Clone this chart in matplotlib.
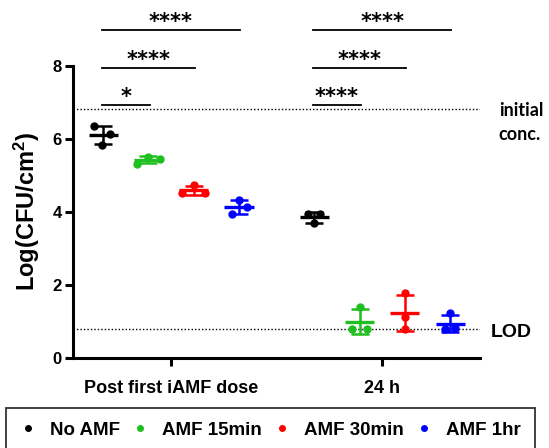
import numpy as np
import matplotlib
matplotlib.use("Agg")
import matplotlib.pyplot as plt
from matplotlib.lines import Line2D

plt.rcParams['font.family'] = ['Liberation Sans', 'DejaVu Sans']
plt.rcParams['font.weight'] = 'bold'
plt.rcParams['mathtext.fontset'] = 'custom'
plt.rcParams['mathtext.rm'] = 'Liberation Sans:bold'
plt.rcParams['mathtext.bf'] = 'Liberation Sans:bold'
plt.rcParams['mathtext.default'] = 'bf'

# data
groups = ["Post first iAMF dose", "24 h"]
series = ["No AMF", "AMF 15min", "AMF 30min", "AMF 1hr"]
colors = ["black", "#1fbf1f", "red", "blue"]

post_dose = [
    [6.34, 6.12, 5.84],
    [5.32, 5.50, 5.46],
    [4.52, 4.73, 4.52],
    [4.33, 4.13, 3.95],
]
h24 = [
    [3.95, 3.93, 3.68],
    [1.38, 0.78, 0.78],
    [1.77, 1.11, 0.78],
    [1.21, 0.78, 0.80],
]
initial_conc = 6.83
lod = 0.78

# significance bars: (group, compared series index, label, level)
sig = [
    (0, 1, "*", 6.92),
    (0, 2, "****", 7.95),
    (0, 3, "****", 8.99),
    (1, 1, "****", 6.92),
    (1, 2, "****", 7.95),
    (1, 3, "****", 8.99),
]

# layout
offsets = [-0.322, -0.107, 0.107, 0.322]
jitter = [
    [[-0.041, 0.033, -0.005], [-0.053, 0.0, 0.053], [-0.053, 0.0, 0.053], [0.0, 0.038, -0.033]],
    [[-0.028, 0.028, 0.0], [0.0, -0.035, 0.035], [0.0, 0.0, 0.0], [0.0, -0.024, 0.024]],
]

fig = plt.figure(figsize=(5.49, 4.48), dpi=100)
ax = fig.add_axes([0.1324, 0.202, 0.742, 0.6507])

for gi, gdata in enumerate([post_dose, h24]):
    for si, vals in enumerate(gdata):
        vals = np.array(vals)
        xc = gi + offsets[si]
        m = vals.mean()
        sd = vals.std(ddof=1)
        ax.errorbar(xc, m, yerr=sd, fmt='none', ecolor=colors[si], elinewidth=1.8,
                    capsize=6.5, capthick=1.8, zorder=3)
        ax.hlines(m, xc - 0.069, xc + 0.069, color=colors[si], lw=2.4, zorder=3)
        ax.plot(xc + np.array(jitter[gi][si]), vals, 'o', color=colors[si],
                ms=5, zorder=4)

ax.axhline(initial_conc, color='black', ls=(0, (1, 1.5)), lw=1.0, zorder=1)
ax.axhline(lod, color='black', ls=(0, (1, 1.5)), lw=1.0, zorder=1)

for gi, si, lab, yb in sig:
    x0 = gi + offsets[0] - 0.005
    x1 = gi + offsets[si] + 0.005
    ax.plot([x0, x1], [yb, yb], color='black', lw=1.3, clip_on=False)
    ax.text((x0 + x1) / 2, yb + 0.06, lab, ha='center', va='baseline',
            fontsize=15, fontweight='bold', family='DejaVu Sans')

ax.set_xlim(-0.466, 1.464)
ax.set_ylim(0, 8)
ax.set_yticks([0, 2, 4, 6, 8])
ax.set_xticks([0, 1])
ax.set_xticklabels(groups, fontsize=13, fontweight='bold')
ax.tick_params(axis='y', labelsize=12, width=2.2, length=6, pad=2)
ax.tick_params(axis='x', width=2.2, length=6, pad=10)
for lbl in ax.get_yticklabels():
    lbl.set_fontweight('bold')
for s in ['top', 'right']:
    ax.spines[s].set_visible(False)
for s in ['left', 'bottom']:
    ax.spines[s].set_linewidth(2.2)

ax.set_ylabel("Log(CFU/cm$^2$)", fontsize=17, fontweight='bold')
ax.yaxis.set_label_coords(-0.076, 0.5)

ax.text(1.046, 6.45, "initial\nconc.", transform=ax.get_yaxis_transform(),
        ha='left', va='center', fontsize=13, fontweight='bold', family='Lato',
        linespacing=1.55, clip_on=False)
ax.text(1.027, lod - 0.1, "LOD", transform=ax.get_yaxis_transform(),
        ha='left', va='center', fontsize=14, fontweight='bold', clip_on=False)

handles = [Line2D([], [], ls='none', marker='o', color=c, ms=4) for c in colors]
leg = fig.legend(handles, series, loc='upper left',
                 bbox_to_anchor=(6.3 / 549, 1 - 407.7 / 448, (535 - 6.3) / 549, 0.0),
                 mode='expand', ncol=4, frameon=True, fancybox=False, edgecolor='black',
                 prop={'size': 13.5, 'weight': 'bold'}, handlelength=0.8,
                 handletextpad=0.8, columnspacing=0.65, borderpad=0.75,
                 borderaxespad=0)
leg.get_frame().set_linewidth(1.3)

fig.savefig("out.png", dpi=100)
